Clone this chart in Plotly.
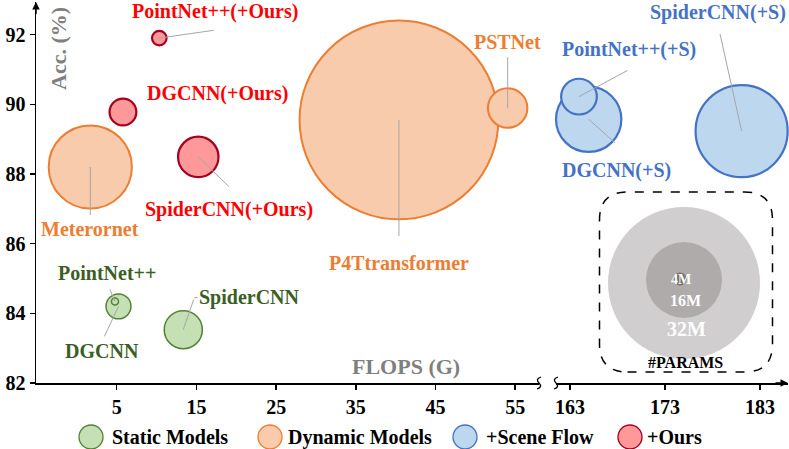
import plotly.graph_objects as go

# ---------------- data ----------------
static_names = ["PointNet++", "DGCNN", "SpiderCNN"]
static_flops = [4.78, 5.22, 13.35]
static_acc = [84.34, 84.20, 83.53]
static_params = [1.5, 5.3, 8.1]

dynamic_names = ["Meterornet", "P4Ttransformer", "PSTNet"]
dynamic_flops = [1.68, 40.41, 54.05]
dynamic_acc = [88.20, 89.55, 89.89]
dynamic_params = [17.7, 42.3, 8.4]

sf_names = ["PointNet++(+S)", "DGCNN(+S)", "SpiderCNN(+S)"]
sf_flops = [163.95, 164.97, 181.07]
sf_acc = [90.22, 89.57, 89.23]
sf_params = [7.6, 13.9, 19.6]

ours_names = ["PointNet++(+Ours)", "DGCNN(+Ours)", "SpiderCNN(+Ours)"]
ours_flops = [10.34, 5.78, 15.23]
ours_acc = [91.90, 89.78, 88.49]
ours_params = [3.1, 5.7, 8.6]

legend_names = ["Static Models", "Dynamic Models", "+Scene Flow", "+Ours"]
size_legend_labels = ["32M", "16M", "4M"]

x_ticks_left = [5, 15, 25, 35, 45, 55]
x_ticks_right = [163, 173, 183]
y_ticks = [82, 84, 86, 88, 90, 92]

# ---------------- style / layout ----------------
FONT = "Liberation Serif"
W, H = 789, 449
ML, MR, MT, MB = 36, 1, 2, 66
PW, PH = W - ML - MR, H - MT - MB
PX_PER_M = 4.7  # bubble diameter per million params

def PX(px):
    return (px - ML) / PW

def PY(py):
    return (MT + PH - py) / PH

groups = [
    dict(names=static_names, x=static_flops, y=static_acc, p=static_params, xa="x",
         fill="#C5E0B4", line="#548235", lw=1.5, txt="#3B5E24"),
    dict(names=dynamic_names, x=dynamic_flops, y=dynamic_acc, p=dynamic_params, xa="x",
         fill="#F8CBAD", line="#ED7D31", lw=2, txt="#ED7D31"),
    dict(names=sf_names, x=sf_flops, y=sf_acc, p=sf_params, xa="x2",
         fill="#BDD7EE", line="#4472C4", lw=2.2, txt="#4472C4"),
    dict(names=ours_names, x=ours_flops, y=ours_acc, p=ours_params, xa="x",
         fill="#FF9999", line="#A50021", lw=2.2, txt="#FF0000"),
]

# label offsets (text xshift, yshift) and leader tail offset (ax, ay) in pixels
label_pos = {
    "PointNet++": (-8, 28, (-6, -14)),
    "DGCNN": (-16, -45, (-15, 32)),
    "SpiderCNN": (66, 32, (11, -32)),
    "PointNet++(+Ours)": (56, 27, (56, -8)),
    "DGCNN(+Ours)": (95, 18, None),
    "SpiderCNN(+Ours)": (31, -53, (32, 31)),
    "Meterornet": (0, -62, (0, 50)),
    "P4Ttransformer": (0, -143, (0, 118)),
    "PSTNet": (0, 66, (0, -53)),
    "PointNet++(+S)": (50, 47, (50, -27)),
    "DGCNN(+S)": (28, -51, (28, 25)),
    "SpiderCNN(+S)": (-24, 119, (-22, -99)),
}

fig = go.Figure()
annotations = []
shapes = []

for g in groups:
    order = sorted(range(len(g["p"])), key=lambda i: -g["p"][i])
    fig.add_trace(go.Scatter(
        x=[g["x"][i] for i in order],
        y=[g["y"][i] for i in order],
        mode="markers",
        xaxis=g["xa"], yaxis="y",
        cliponaxis=False,
        showlegend=False,
        marker=dict(
            size=[g["p"][i] for i in order],
            sizemode="diameter",
            sizeref=1 / PX_PER_M,
            color=g["fill"],
            opacity=1,
            line=dict(color=g["line"], width=g["lw"]),
        ),
        hoverinfo="skip",
    ))
    for i, name in enumerate(g["names"]):
        xs, ys, lead = label_pos[name]
        if lead is not None:
            annotations.append(dict(
                x=g["x"][i], y=g["y"][i], xref=g["xa"], yref="y",
                ax=lead[0], ay=lead[1], text=" ", font=dict(size=1),
                showarrow=True, arrowhead=0, arrowwidth=1, arrowcolor="#A6A6A6",
                standoff=0,
            ))
            if name == "SpiderCNN":
                # short horizontal elbow of the leader line
                annotations.append(dict(
                    x=g["x"][i], y=g["y"][i], xref=g["xa"], yref="y",
                    xshift=lead[0], yshift=-lead[1], ax=5, ay=0, text=" ",
                    font=dict(size=1), showarrow=True, arrowhead=0, arrowwidth=1,
                    arrowcolor="#A6A6A6", standoff=0,
                ))
        annotations.append(dict(
            x=g["x"][i], y=g["y"][i], xref=g["xa"], yref="y",
            xshift=xs, yshift=ys, text=name, showarrow=False,
            xanchor="center", yanchor="middle",
            font=dict(family=FONT, size=20, color=g["txt"], weight="bold"),
        ))

def paper_text(px, py, text, size, color, xanchor="center", angle=0):
    annotations.append(dict(x=PX(px), y=PY(py), xref="paper", yref="paper", text=text,
                            textangle=angle, showarrow=False,
                            xanchor=xanchor, yanchor="middle",
                            font=dict(family=FONT, size=size, color=color, weight="bold")))

# axis titles
paper_text(58, 49, "Acc. (%)", 22, "#7F7F7F", angle=-90)
paper_text(406, 366, "FLOPS (G)", 22, "#7F7F7F")

# axis arrows
annotations.append(dict(x=0, y=1, xref="paper", yref="paper", ax=0, ay=14, text=" ",
                        font=dict(size=1), showarrow=True, arrowhead=2, arrowsize=1,
                        arrowwidth=1.5, arrowcolor="black", standoff=0))
annotations.append(dict(x=1, y=0, xref="paper", yref="paper", ax=-14, ay=0, text=" ",
                        font=dict(size=1), showarrow=True, arrowhead=2, arrowsize=1,
                        arrowwidth=1.5, arrowcolor="black", standoff=0))

# axis-break squiggles
for bx in (539, 556):
    shapes.append(dict(type="path", xref="paper", yref="paper",
                       xsizemode="pixel", ysizemode="pixel",
                       xanchor=PX(bx), yanchor=0,
                       path="M -2,-6 Q 4,-4 0,0 Q -4,4 2,6",
                       line=dict(color="black", width=1.3)))

# size legend (#PARAMS)
cx, cy = 686, 282
w, h, r = 86.5, 90, 28
box = (f"M {-w + r},{-h} L {w - r},{-h} Q {w},{-h} {w},{-h + r} L {w},{h - r} "
       f"Q {w},{h} {w - r},{h} L {-w + r},{h} Q {-w},{h} {-w},{h - r} "
       f"L {-w},{-h + r} Q {-w},{-h} {-w + r},{-h} Z")
shapes.append(dict(type="path", xref="paper", yref="paper", xsizemode="pixel",
                   ysizemode="pixel", xanchor=PX(cx), yanchor=PY(cy),
                   path=box, line=dict(color="black", width=1.5, dash="dash")))
size_circles = [((684, 283), 76, "#D0CECE"), ((684, 280), 38, "#AFABAB"), ((680, 279), 6.5, "#767171")]
for (sx, sy), rad, col in size_circles:
    shapes.append(dict(type="circle", xref="paper", yref="paper", xsizemode="pixel",
                       ysizemode="pixel", xanchor=PX(sx), yanchor=PY(sy),
                       x0=-rad, x1=rad, y0=-rad, y1=rad, fillcolor=col,
                       line=dict(width=0), layer="above"))
size_text_pos = [((686, 329), 20), ((685, 300), 16), ((681, 279), 14)]
for lab, ((tx, ty), fs) in zip(size_legend_labels, size_text_pos):
    paper_text(tx, ty, lab, fs, "white")
paper_text(685, 362, "#PARAMS", 16, "black")

# category legend
leg_circle_x = [91, 270, 465, 630]
leg_text_x = [110, 286, 484, 645]
leg_y = 437
for name, g, lx, tx in zip(legend_names, groups, leg_circle_x, leg_text_x):
    shapes.append(dict(type="circle", xref="paper", yref="paper", xsizemode="pixel",
                       ysizemode="pixel", xanchor=PX(lx), yanchor=PY(leg_y),
                       x0=-12, x1=12, y0=-12, y1=12, fillcolor=g["fill"],
                       line=dict(color=g["line"], width=1.3)))
    paper_text(tx, leg_y, name, 20, "black", xanchor="left")

axis_common = dict(showline=True, linecolor="black", linewidth=1.5, ticks="outside",
                   ticklen=5, tickwidth=1.5, tickcolor="black", showgrid=False,
                   zeroline=False,
                   tickfont=dict(family=FONT, size=20, color="black", weight="bold"))

fig.update_layout(
    width=W, height=H,
    margin=dict(l=ML, r=MR, t=MT, b=MB),
    paper_bgcolor="white", plot_bgcolor="white",
    font=dict(family=FONT),
    showlegend=False,
    hovermode=False,
    xaxis=dict(domain=[0, PX(539)], range=[-5.13, -5.13 + (539 - ML) / 7.97],
               tickvals=x_ticks_left, **axis_common),
    xaxis2=dict(domain=[PX(556), 1], range=[161.53, 161.53 + (W - MR - 556) / 9.5],
                tickvals=x_ticks_right, anchor="y", **axis_common),
    yaxis=dict(range=[82, 82 + PH / 34.84], tickvals=y_ticks, **axis_common),
    annotations=annotations,
    shapes=shapes,
)

fig.write_html("out.html",
               config={"displayModeBar": False, "staticPlot": True},
               post_script="document.body.style.margin='0px';document.body.style.overflow='hidden';")
